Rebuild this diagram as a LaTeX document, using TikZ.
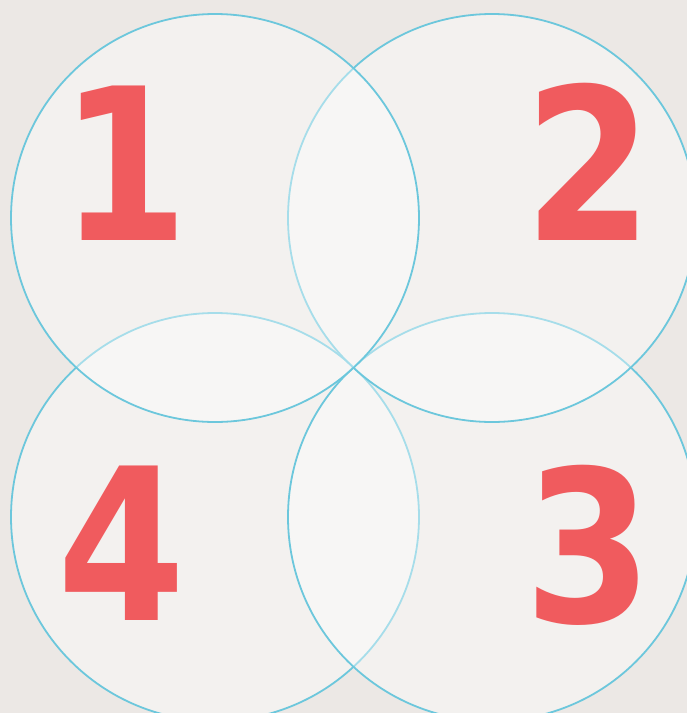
\documentclass[tikz,border=0pt]{standalone}
\usepackage{fontspec}
\setmainfont{DejaVu Sans}
\definecolor{bgc}{HTML}{ECE8E5}
\definecolor{ringc}{HTML}{6CC7DC}
\definecolor{numc}{HTML}{F05B5E}
\newcommand{\dig}[1]{\scalebox{0.87}[1]{#1}}
\begin{document}
\begin{tikzpicture}[x=1pt,y=-1pt,
  ring/.style={draw=ringc,line width=1.8pt,fill=white,fill opacity=0.4,draw opacity=1},
  num/.style={text=numc,font=\fontsize{212}{212}\selectfont\bfseries,inner sep=0pt,anchor=center}]
\fill[bgc] (0,0) rectangle (687,713);
\useasboundingbox (0,0) rectangle (687,713);
\begin{scope}
\clip (0,0) rectangle (687,713);
\path[ring] (215,517) circle[radius=204];
\path[ring] (492,517) circle[radius=204];
\path[ring] (492,218) circle[radius=204];
\path[ring] (215,218) circle[radius=204];
\end{scope}
\node[num] (n1) at (125,163) {\dig{1}};
\node[num] (n2) at (589,162) {\dig{2}};
\node[num] (n3) at (589,545) {\dig{3}};
\node[num] (n4) at (122,543) {\dig{4}};
\end{tikzpicture}
\end{document}
